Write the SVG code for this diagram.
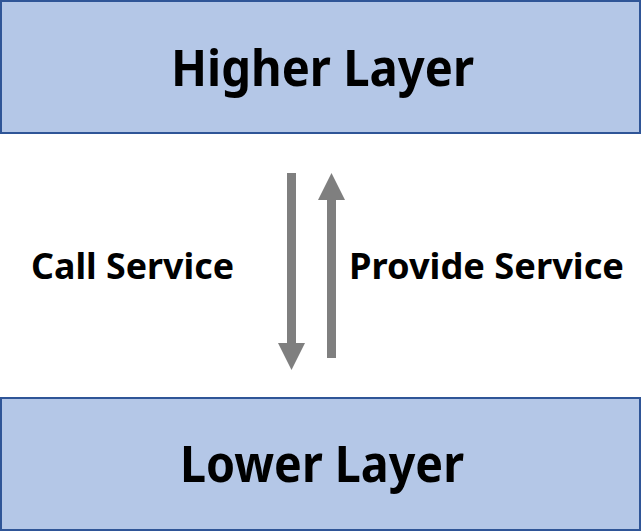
<svg xmlns="http://www.w3.org/2000/svg" width="641" height="531" viewBox="0 0 641 531">
<style>
.box{fill:#B4C7E7;stroke:#2F5597;stroke-width:2}
.big{font-family:"Noto Sans","Open Sans",sans-serif;font-weight:bold;font-size:50px;fill:#000;text-anchor:middle}
.lbl{font-family:"Noto Sans","Open Sans",sans-serif;font-weight:bold;font-size:35px;fill:#000;text-anchor:middle}
.arr{fill:#7F7F7F}
</style>
<rect width="641" height="531" fill="#fff"/>
<g id="higher">
<rect class="box" x="1" y="1" width="639" height="132"/>
<text class="big" x="322.5" y="86" textLength="303" lengthAdjust="spacingAndGlyphs">Higher Layer</text>
</g>
<g id="lower">
<rect class="box" x="1" y="398" width="639" height="132"/>
<text class="big" x="322" y="482" textLength="284" lengthAdjust="spacingAndGlyphs">Lower Layer</text>
</g>
<g id="connectors">
<path class="arr" d="M287 173 H296 V343 H305 L291.5 370 L278 343 H287 Z"/>
<path class="arr" d="M327 358 H336 V200 H345 L331.5 173 L318 200 H327 Z"/>
</g>
<g id="labels">
<text class="lbl" x="132.5" y="279" textLength="203" lengthAdjust="spacingAndGlyphs">Call Service</text>
<text class="lbl" x="486.5" y="279" textLength="275" lengthAdjust="spacingAndGlyphs">Provide Service</text>
</g>
</svg>
